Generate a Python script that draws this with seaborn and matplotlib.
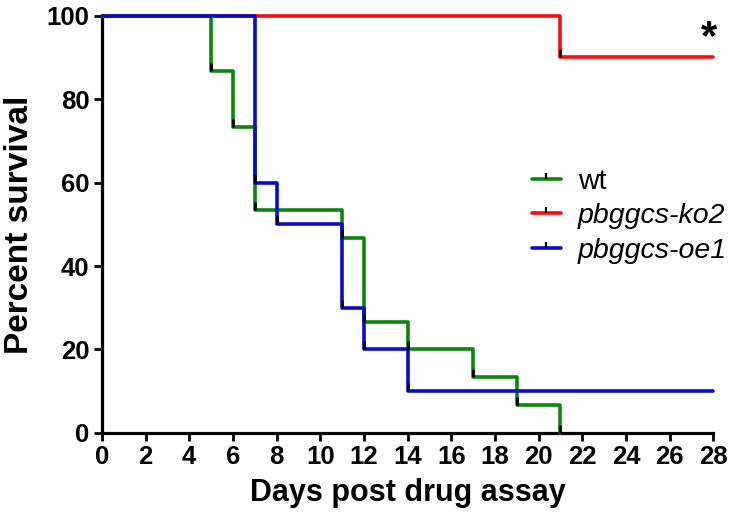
import numpy as np
import pandas as pd
import matplotlib
matplotlib.use("Agg")
import matplotlib.pyplot as plt
from matplotlib.lines import Line2D
from matplotlib.path import Path
import seaborn as sns

groups = ["wt", "pbggcs-ko2", "pbggcs-oe1"]
wt_days = [0, 5, 6, 7, 11, 12, 14, 17, 19, 21]
wt_surv = [100, 86.67, 73.33, 53.33, 46.67, 26.67, 20, 13.33, 6.67, 0]
ko2_days = [0, 21, 28]
ko2_surv = [100, 90, 90]
oe1_days = [0, 7, 8, 11, 12, 14, 28]
oe1_surv = [100, 60, 50, 30, 20, 10, 10]
x_ticks = list(range(0, 29, 2))
y_ticks = [0, 20, 40, 60, 80, 100]

colors = {"wt": "#0A870A", "pbggcs-ko2": "#FF0A0A", "pbggcs-oe1": "#0A0ACC"}
series = {"wt": (wt_days, wt_surv), "pbggcs-ko2": (ko2_days, ko2_surv),
          "pbggcs-oe1": (oe1_days, oe1_surv)}

sns.set_style("white")
plt.rcParams["font.family"] = ["Liberation Sans", "DejaVu Sans"]
plt.rcParams["text.color"] = "black"
plt.rcParams["axes.labelcolor"] = "black"
plt.rcParams["xtick.color"] = "black"
plt.rcParams["ytick.color"] = "black"

fig = plt.figure(figsize=(7.33, 5.26), dpi=100)
ax = fig.add_axes([0.139, 0.177, 0.834, 0.793])

tick_marker = Path([(0, 0), (0, 1)], [Path.MOVETO, Path.LINETO])

for g in ["pbggcs-ko2", "wt", "pbggcs-oe1"]:
    d, s = series[g]
    df = pd.DataFrame({"day": d, "surv": s})
    sns.lineplot(data=df, x="day", y="surv", ax=ax, color=colors[g],
                 drawstyle="steps-post", lw=2.6, estimator=None, sort=False,
                 clip_on=False, zorder=3)
    md = pd.DataFrame({"day": d[1:], "surv": s[1:]})
    if g != "wt":
        md = md.iloc[:-1]
    ax.plot(md["day"], md["surv"], ls="none", marker=tick_marker, ms=12,
            mew=2, mec="black", clip_on=False, zorder=4)

ax.set_xlim(0, 28)
ax.set_ylim(0, 100)
ax.set_xticks(x_ticks)
ax.set_yticks(y_ticks)
ax.tick_params(axis="both", which="major", direction="out", length=6, width=2,
               color="black", labelcolor="black", labelsize=18.5, pad=3,
               bottom=True, left=True)
for lab in ax.get_xticklabels() + ax.get_yticklabels():
    lab.set_fontweight("bold")
for sp in ["top", "right"]:
    ax.spines[sp].set_visible(False)
for sp in ["left", "bottom"]:
    ax.spines[sp].set_linewidth(2.3)
    ax.spines[sp].set_color("black")

ax.set_xlabel("Days post drug assay", fontsize=22, fontweight="bold",
              labelpad=6, color="black")
ax.set_ylabel("Percent survival", fontsize=24, fontweight="bold",
              labelpad=8, color="black")

ax.text(27.8, 99.5, "*", fontsize=30, fontweight="bold", ha="center", va="top")

handles = [Line2D([0], [0], color=colors[g], lw=2.6, marker=tick_marker, ms=9,
                  mew=1.6, mec="black") for g in groups]
labels = ["wt", "pbggcs-ko2", "pbggcs-oe1"]
leg = ax.legend(handles, labels, loc="upper left", bbox_to_anchor=(0.662, 0.695),
                frameon=False, fontsize=20.5, handlelength=1.0,
                handletextpad=0.6, labelspacing=0.3)
for t in leg.get_texts()[1:]:
    t.set_fontstyle("italic")

fig.savefig("out.png", dpi=100)
